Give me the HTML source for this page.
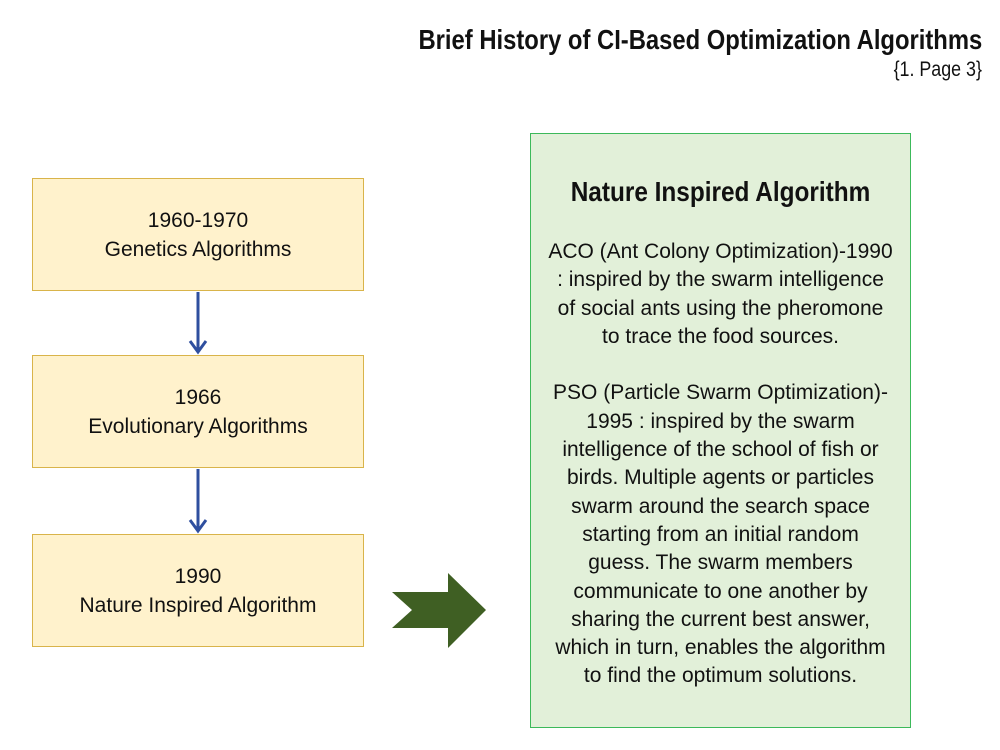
<!DOCTYPE html>
<html><head><meta charset="utf-8"><style>
body{margin:0;width:1000px;height:750px;background:#fff;position:relative;overflow:hidden;font-family:"Liberation Sans",sans-serif}
.t{position:absolute;right:18px;color:#111;text-align:right;white-space:nowrap;transform-origin:right center}
.b{position:absolute;left:32px;width:330px;height:111px;background:#fff2cc;border:1.5px solid #d9b44a;display:flex;align-items:center;justify-content:center;text-align:center;font-size:21px;line-height:29px;color:#111}
.g{position:absolute;left:530px;top:133px;width:379px;height:593px;background:#e2f0d9;border:1.5px solid #3cb95a;text-align:center;color:#111}
</style></head><body>
<div class="t" style="top:24px;font-size:28px;font-weight:bold;transform:scaleX(0.85)">Brief History of CI-Based Optimization Algorithms</div>
<div class="t" style="top:58px;font-size:21px;transform:scaleX(0.85)">{1. Page 3}</div>
<div class="b" style="top:178px">1960-1970<br>Genetics Algorithms</div>
<div class="b" style="top:355px">1966<br>Evolutionary Algorithms</div>
<div class="b" style="top:534px">1990<br>Nature Inspired Algorithm</div>
<svg width="1000" height="750" style="position:absolute;left:0;top:0">
<g stroke="#2f4f9f" stroke-width="3" fill="none">
<line x1="198" y1="292" x2="198" y2="350"/><polyline points="190,341 198,352 206,341"/>
<line x1="198" y1="469" x2="198" y2="529"/><polyline points="190,520 198,531 206,520"/>
</g>
<polygon points="392,592 448,592 448,573 486,610 448,648 448,628 392,628 412,610" fill="#3f5f23"/>
</svg>
<div class="g">
<div style="margin-top:42px;font-weight:bold;font-size:28px;transform:scaleX(0.87);white-space:nowrap">Nature Inspired Algorithm</div>
<div style="margin:30px 0 0;font-size:21px;line-height:28.3px;white-space:nowrap">ACO (Ant Colony Optimization)-1990<br>: inspired by the swarm intelligence<br>of social ants using the pheromone<br>to trace the food sources.<br><br>PSO (Particle Swarm Optimization)-<br>1995 : inspired by the swarm<br>intelligence of the school of fish or<br>birds. Multiple agents or particles<br>swarm around the search space<br>starting from an initial random<br>guess. The swarm members<br>communicate to one another by<br>sharing the current best answer,<br>which in turn, enables the algorithm<br>to find the optimum solutions.</div>
</div>
</body></html>
